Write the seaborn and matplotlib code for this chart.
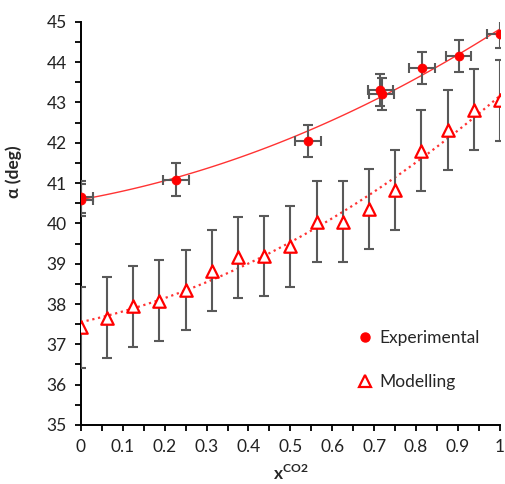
import numpy as np
import pandas as pd
import seaborn as sns
import matplotlib
matplotlib.use('Agg')
import matplotlib.pyplot as plt
from matplotlib.lines import Line2D
from matplotlib.ticker import MultipleLocator, FuncFormatter

# experimental points
exp_x = [0.0, 0.0, 0.227, 0.542, 0.715, 0.718, 0.814, 0.902, 1.0]
exp_y = [40.66, 40.58, 41.08, 42.05, 43.30, 43.20, 43.86, 44.16, 44.69]
exp_xerr = [0.03, 0.03, 0.03, 0.03, 0.03, 0.03, 0.03, 0.03, 0.03]
exp_yerr = [0.4, 0.4, 0.41, 0.4, 0.4, 0.4, 0.4, 0.4, 0.35]

# modelling points
mod_x = [0.0, 0.0625, 0.125, 0.1875, 0.25, 0.3125, 0.375, 0.4375, 0.5,
         0.5625, 0.625, 0.6875, 0.75, 0.8125, 0.875, 0.9375, 1.0]
mod_y = [37.42, 37.66, 37.94, 38.08, 38.35, 38.83, 39.16, 39.19, 39.43,
         40.04, 40.04, 40.36, 40.83, 41.80, 42.32, 42.82, 43.05]
mod_yerr = [1.0] * len(mod_x)

exp_df = pd.DataFrame({'x': exp_x, 'y': exp_y})
mod_df = pd.DataFrame({'x': mod_x, 'y': mod_y})

sns.set_style('white')
plt.rcParams['font.family'] = ['Lato', 'DejaVu Sans']
plt.rcParams['mathtext.fontset'] = 'custom'
plt.rcParams['mathtext.rm'] = 'Lato'
plt.rcParams['mathtext.bf'] = 'Lato:bold'

fig = plt.figure(figsize=(5.05, 4.84), dpi=100)
ax = fig.add_axes([0.160, 0.122, 0.830, 0.833])

err_col = '#595959'

# polynomial (order 2) trendlines, like the spreadsheet ones
sns.regplot(data=exp_df, x='x', y='y', order=2, ci=None, scatter=False,
            truncate=True, ax=ax, line_kws={'color': '#ff3333', 'lw': 1.0})
sns.regplot(data=mod_df, x='x', y='y', order=2, ci=None, scatter=False,
            truncate=True, ax=ax, line_kws={'color': '#ff3333', 'lw': 1.6, 'ls': ':'})

ax.errorbar(exp_x, exp_y, xerr=exp_xerr, yerr=exp_yerr, fmt='none',
            ecolor=err_col, elinewidth=1.5, capsize=3.5, capthick=1.5, zorder=3)
ax.errorbar(mod_x, mod_y, yerr=mod_yerr, fmt='none',
            ecolor=err_col, elinewidth=1.5, capsize=3.5, capthick=1.5, zorder=3)

sns.scatterplot(data=exp_df, x='x', y='y', marker='o', color='red', s=42,
                edgecolor='red', linewidth=0.5, ax=ax, zorder=4)
sns.scatterplot(data=mod_df, x='x', y='y', marker='^', facecolor='white', s=80,
                edgecolor='red', linewidth=1.6, ax=ax, zorder=4)

ax.set_xlim(0, 1)
ax.set_ylim(35, 45)
ax.xaxis.set_major_locator(MultipleLocator(0.1))
ax.xaxis.set_minor_locator(MultipleLocator(0.05))
ax.yaxis.set_major_locator(MultipleLocator(1))
ax.yaxis.set_minor_locator(MultipleLocator(0.5))
ax.xaxis.set_major_formatter(FuncFormatter(lambda v, p: f'{v:.1f}'.rstrip('0').rstrip('.') if abs(v) > 1e-9 else '0'))
ax.tick_params(which='both', direction='out', length=4, width=1.3, color='black',
               labelsize=12.5, labelcolor='#222222', pad=6)
ax.tick_params(axis='x', which='both', bottom=True)
ax.tick_params(axis='y', which='both', left=True)

sns.despine(ax=ax)
for s in ['left', 'bottom']:
    ax.spines[s].set_color('black')
    ax.spines[s].set_linewidth(1.4)

ax.set_xlabel(r'$\mathbf{x}^{\mathbf{CO2}}$', fontsize=12.5)
ax.set_ylabel(r'α (deg)', fontsize=12.5, fontweight='bold')
ax.xaxis.set_label_coords(0.5, -0.095)
ax.yaxis.set_label_coords(-0.14, 0.628)

handles = [Line2D([], [], marker='o', color='red', ls='none', ms=6.5),
           Line2D([], [], marker='^', mfc='white', mec='red', mew=1.6, ls='none', ms=8)]
ax.legend(handles, ['Experimental', 'Modelling'], loc='upper left',
          bbox_to_anchor=(0.709, 0.318), bbox_transform=fig.transFigure,
          frameon=False, fontsize=12.5, handlelength=0.8, handletextpad=0.4,
          borderpad=0, borderaxespad=0, labelspacing=1.62)

fig.savefig('out.png', dpi=100)
